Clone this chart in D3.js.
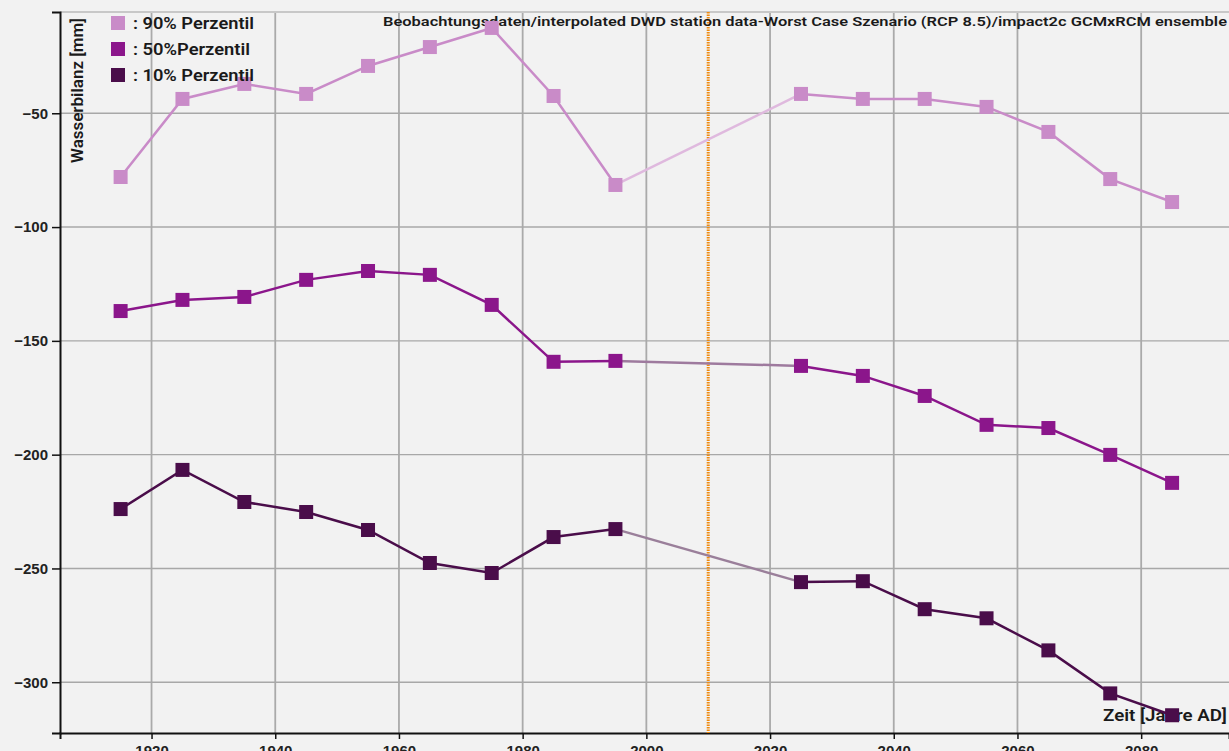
<!DOCTYPE html>
<html>
<head>
<meta charset="utf-8">
<script src="https://cdn.jsdelivr.net/npm/d3@7"></script>
<style>
  html, body { margin: 0; padding: 0; background: #f2f2f2; }
  svg { display: block; font-family: Roboto, "Noto Sans", sans-serif; }
</style>
</head>
<body>
<svg id="chart"></svg>
<script>
// Data
const years = [1915, 1925, 1935, 1945, 1955, 1965, 1975, 1985, 1995,
               2025, 2035, 2045, 2055, 2065, 2075, 2085];
const p90 = [-78.0, -43.7, -37.1, -41.5, -29.2, -20.9, -12.5, -42.4, -81.5,
             -41.5, -43.7, -43.7, -47.2, -58.2, -78.9, -89.0];
const p50 = [-136.9, -132.0, -130.7, -123.2, -119.3, -121.0, -134.2, -159.2, -158.8,
             -161.0, -165.4, -174.2, -186.9, -188.3, -200.1, -212.4];
const p10 = [-223.9, -206.7, -220.8, -225.2, -233.1, -247.6, -252.0, -236.2, -232.7,
             -256.0, -255.6, -267.9, -271.9, -286.0, -304.9, -314.5];
const seriesNames = [': 90% Perzentil', ': 50%Perzentil', ': 10% Perzentil'];
const seriesColors = ['#c98bc8', '#8b168b', '#4a0d4a'];
const gapColors = ['#dfb9de', '#9e7a9e', '#9a7f9a'];
const xTicks = [1920, 1940, 1960, 1980, 2000, 2020, 2040, 2060, 2080];
const yTicks = [-50, -100, -150, -200, -250, -300];
const splitYear = 2010;
const lastObserved = 1995;
const title = 'Beobachtungsdaten/interpolated DWD station data-Worst Case Szenario (RCP 8.5)/impact2c GCMxRCM ensemble';

const width = 1229, height = 751;
const margin = {top: 12, right: 0, bottom: 18, left: 60};

const svg = d3.select('#chart')
  .attr('width', width)
  .attr('height', height);

svg.append('rect')
  .attr('width', width)
  .attr('height', height)
  .attr('fill', '#f2f2f2');

const x = d3.scaleLinear()
  .domain([1905.2, 2094.2])
  .range([margin.left, width - margin.right]);

const y = d3.scaleLinear()
  .domain([-5.5, -322.3])
  .range([margin.top, height - margin.bottom]);

// Grid
const grid = svg.append('g');
grid.selectAll('line.v')
  .data(xTicks)
  .enter()
  .append('line')
    .attr('x1', d => x(d)).attr('x2', d => x(d))
    .attr('y1', y.range()[0]).attr('y2', y.range()[1])
    .attr('stroke', '#aaaaaa')
    .attr('stroke-width', 1.8);

grid.selectAll('line.h')
  .data(yTicks.concat([y.domain()[0]]))
  .enter()
  .append('line')
    .attr('x1', margin.left).attr('x2', width)
    .attr('y1', d => y(d)).attr('y2', d => y(d))
    .attr('stroke', d => d === y.domain()[0] ? '#c8c8c8' : '#a8a8a8')
    .attr('stroke-width', d => d === y.domain()[0] ? 2 : 1.4);

// Axes
const xAxis = svg.append('g')
  .attr('transform', `translate(0,${y.range()[1]})`)
  .call(d3.axisBottom(x).tickValues(xTicks).tickFormat(d3.format('d')).tickSize(6));

const yAxis = svg.append('g')
  .attr('transform', `translate(${margin.left},0)`)
  .call(d3.axisLeft(y).tickValues(yTicks).tickSize(8).tickPadding(4));

[xAxis, yAxis].forEach(a => {
  a.select('.domain').attr('stroke', '#111').attr('stroke-width', 2);
  a.selectAll('.tick line').attr('stroke', '#111').attr('stroke-width', 1.5);
  a.selectAll('.tick text')
    .attr('fill', '#222')
    .style('font-size', '15px')
    .style('font-weight', 600);
});
xAxis.selectAll('.tick text').attr('dy', '0.95em');

// Orange divider
svg.append('line')
  .attr('x1', x(splitYear)).attr('x2', x(splitYear))
  .attr('y1', y.range()[0]).attr('y2', y.range()[1])
  .attr('stroke', '#ef8a10')
  .attr('stroke-width', 3)
  .attr('stroke-dasharray', '1.5,1');

// Title and axis labels
svg.append('text')
  .attr('x', 383).attr('y', 26)
  .attr('textLength', 844)
  .attr('lengthAdjust', 'spacingAndGlyphs')
  .style('font-size', '13.5px')
  .style('font-weight', 600)
  .attr('fill', '#1a1a1a')
  .text(title);

svg.append('text')
  .attr('transform', `translate(83,18) rotate(-90)`)
  .attr('text-anchor', 'end')
  .attr('textLength', 145)
  .attr('lengthAdjust', 'spacingAndGlyphs')
  .style('font-size', '16px')
  .style('font-weight', 600)
  .attr('fill', '#1a1a1a')
  .text('Wasserbilanz [mm]');

svg.append('text')
  .attr('x', 1103).attr('y', 721)
  .attr('textLength', 124)
  .attr('lengthAdjust', 'spacingAndGlyphs')
  .style('font-size', '16.5px')
  .style('font-weight', 600)
  .attr('fill', '#1a1a1a')
  .text('Zeit [Jahre AD]');

// Series
const seriesData = [p90, p50, p10].map((vals, k) => ({
  name: seriesNames[k],
  color: seriesColors[k],
  gap: gapColors[k],
  points: years.map((yr, i) => ({year: yr, value: vals[i]}))
}));

const line = d3.line()
  .x(d => x(d.year))
  .y(d => y(d.value));

const lines = svg.append('g');
seriesData.forEach(s => {
  const cut = s.points.findIndex(p => p.year > lastObserved);
  const parts = [
    {pts: s.points.slice(0, cut), color: s.color},
    {pts: s.points.slice(cut - 1, cut + 1), color: s.gap},
    {pts: s.points.slice(cut), color: s.color}
  ];
  lines.selectAll(null)
    .data(parts)
    .enter()
    .append('path')
      .attr('d', d => line(d.pts))
      .attr('fill', 'none')
      .attr('stroke', d => d.color)
      .attr('stroke-width', 2.5);

  lines.selectAll(null)
    .data(s.points)
    .enter()
    .append('rect')
      .attr('x', d => x(d.year) - 7)
      .attr('y', d => y(d.value) - 7)
      .attr('width', 14)
      .attr('height', 14)
      .attr('fill', s.color);
});

// Legend
const legend = svg.append('g')
  .attr('transform', 'translate(111,16)');

const item = legend.selectAll('g')
  .data(seriesData)
  .enter()
  .append('g')
    .attr('transform', (d, i) => `translate(0,${i * 26})`);

item.append('rect')
  .attr('width', 14)
  .attr('height', 14)
  .attr('fill', d => d.color);

item.append('text')
  .attr('x', 22)
  .attr('y', 13)
  .attr('textLength', (d, i) => i === 1 ? 117 : 121)
  .attr('lengthAdjust', 'spacingAndGlyphs')
  .style('font-size', '16px')
  .style('font-weight', 600)
  .attr('fill', '#1a1a1a')
  .text(d => d.name);
</script>
</body>
</html>
